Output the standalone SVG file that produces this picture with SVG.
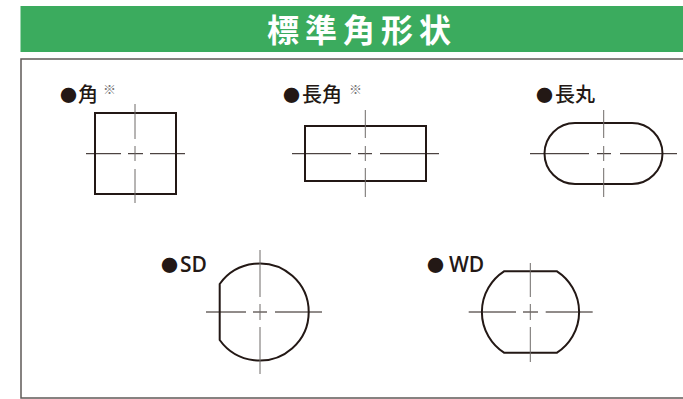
<svg xmlns="http://www.w3.org/2000/svg" width="683" height="399" viewBox="0 0 683 399">
<style>
text{font-family:"Noto Sans CJK JP","Noto Sans",sans-serif;fill:#231815}
.t{font-size:32px;font-weight:700;fill:#fff;letter-spacing:6px}
.l{font-size:20px;font-weight:500}
.b{font-size:17px}
.n{font-size:13px;fill:#777}
.s{font-family:"Open Sans","Noto Sans",sans-serif;font-size:21px;font-weight:600}
.o{fill:none;stroke:#231815;stroke-width:2}
.c{fill:none;stroke:#6f6b68;stroke-width:1}
.h{fill:none;stroke:#231815;stroke-width:1}
</style>
<g id="title"><rect x="20.5" y="6" width="662.5" height="46" fill="#3bab5e"/><text class="t" x="267" y="42">標準角形状</text></g>
<rect id="frame" x="21" y="59" width="663" height="339" fill="none" stroke="#5f5a57" stroke-width="1.5"/>
<g id="kaku"><text class="b" x="60" y="102">●</text><text class="l" x="78" y="102">角</text><text class="n" x="103" y="94">※</text><rect class="o" x="95" y="113" width="81" height="81"/>
<path class="h" d="M86 153.7H121M128 153.7H143M150 153.7H185"/><path class="c" d="M135 104V139M135 146V161M135 169V203"/></g>
<g id="chokaku"><text class="b" x="283" y="102">●</text><text class="l" x="302" y="102">長角</text><text class="n" x="349" y="94">※</text><rect class="o" x="305" y="126" width="121" height="55"/>
<path class="h" d="M292 153.7H351M358 153.7H372M380 153.7H439"/><path class="c" d="M365.3 110V138M365.3 146V161M365.3 168V197"/></g>
<g id="chomaru"><text class="b" x="536" y="102">●</text><text class="l" x="555" y="102">長丸</text><rect class="o" x="544.5" y="123" width="118" height="61" rx="30.5"/>
<path class="h" d="M530 153.7H589M597 153.7H611M620 153.7H677"/><path class="c" d="M603.7 110V138M603.7 146V161M603.7 168V197"/></g>
<g id="sd"><text class="b" x="161" y="272">●</text><text class="s" x="180" y="272">SD</text><path class="o" d="M219.7 284A49 48.5 0 1 1 219.7 340Z"/>
<path class="h" d="M206 312H246M253 312H267M275 312H322"/><path class="c" d="M260 250V297M260 304V320M260 327V374"/></g>
<g id="wd"><text class="b" x="427" y="272">●</text><text class="s" x="449" y="272">WD</text><path class="o" d="M504 271.3H557A48.5 48.5 0 0 1 557 352.7H504A48.5 48.5 0 0 1 504 271.3Z"/>
<path class="h" d="M468.7 312H516M523 312H538M545.7 312H592.7"/><path class="c" d="M530.3 263V297M530.3 304V320M530.3 327V362"/></g>
</svg>
